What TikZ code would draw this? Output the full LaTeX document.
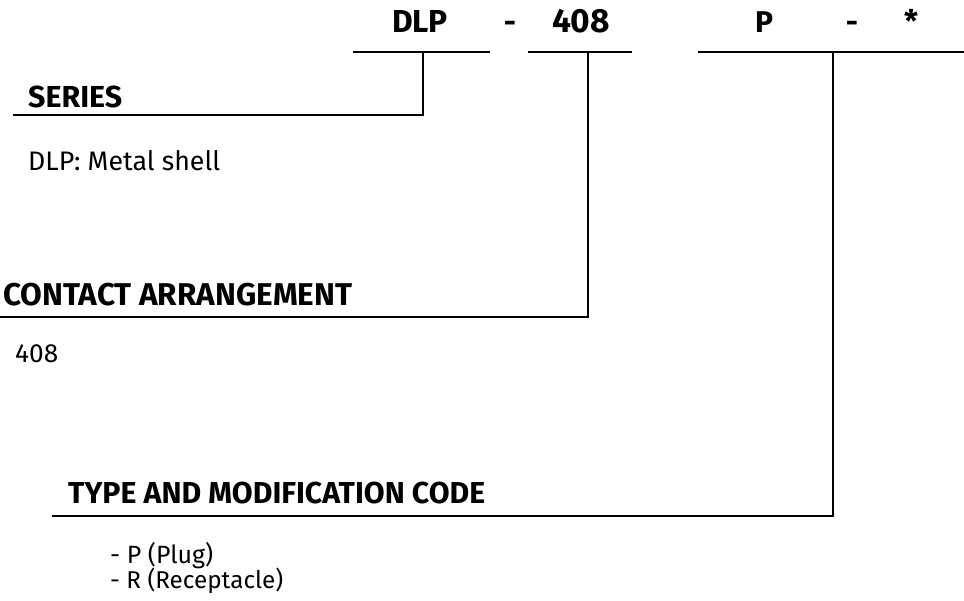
\documentclass[tikz,border=0pt]{standalone}
\usepackage{fontspec}
\usepackage{graphicx}
\setmainfont{Fira Sans}
\newcommand{\fitw}[2]{\resizebox{#1}{!}{#2}}
\tikzset{
  code/.style={inner sep=0pt, anchor=base, font=\bfseries\fontsize{30}{30}\selectfont},
  head/.style={inner sep=0pt, anchor=base west, font=\bfseries},
  body/.style={inner sep=0pt, anchor=base west},
  lead/.style={line width=2.5pt}
}
\begin{document}
\begin{tikzpicture}[x=1pt,y=-1pt]
        \useasboundingbox (0,0) rectangle (964,600);
        % Part number
        \node[code] (dlp) at (420,32) {\fitw{56pt}{DLP}};
        \node[code] (d1) at (510,32) {-};
        \node[code] (num) at (581,32) {\fitw{58pt}{408}};
        \node[code] (typ) at (764,32) {\fitw{18pt}{P}};
        \node[code] (d2) at (852,32) {-};
        \node[code] (opt) at (911,32) {\fitw{14pt}{*}};
        \coordinate (u1a) at (353,52);
        \coordinate (u1b) at (490,52);
        \coordinate (u2a) at (528,52);
        \coordinate (u2b) at (632,52);
        \coordinate (u3a) at (698,52);
        \coordinate (u3b) at (964,52);
        \coordinate (k1) at (423,52);
        \coordinate (k2) at (588,52);
        \coordinate (k3) at (833,52);
        \draw[lead] (u1a) -- (u1b);
        \draw[lead] (u2a) -- (u2b);
        \draw[lead] (u3a) -- (u3b);
        % Series
        \node[head] (series) at (28,107) {\fitw{94pt}{SERIES}};
        \node[body] (shell) at (28,170) {\fitw{192pt}{DLP: Metal shell}};
        \coordinate (s0) at (13,115);
        \draw[lead] (k1) |- (s0);
        % Contact arrangement
        \node[head] (contact) at (3,305) {\fitw{349pt}{CONTACT ARRANGEMENT}};
        \node[body] (arr) at (15,362) {\fitw{43pt}{408}};
        \coordinate (c0) at (0,317);
        \draw[lead] (k2) |- (c0);
        % Type and modification code
        \node[head] (type) at (68,503) {\fitw{417pt}{TYPE AND MODIFICATION CODE}};
        \node[body] (plug) at (110,563) {\fitw{103pt}{- P (Plug)}};
        \node[body] (rec) at (110,588) {\fitw{173pt}{- R (Receptacle)}};
        \coordinate (t0) at (52,516);
        \draw[lead] (k3) |- (t0);
\end{tikzpicture}
\end{document}
